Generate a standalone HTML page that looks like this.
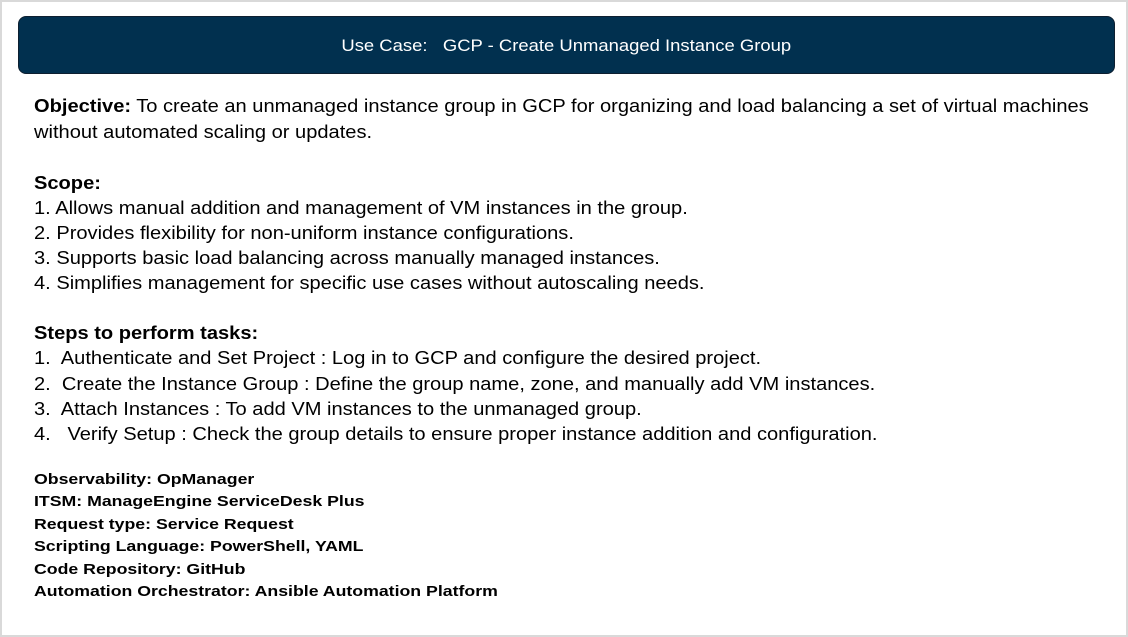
<!DOCTYPE html>
<html><head><meta charset="utf-8"><style>
body{margin:0;width:1128px;height:637px;background:#fff;position:relative;overflow:hidden;font-family:"Liberation Sans",Arial,sans-serif;color:#000}
.frame{position:absolute;left:0;top:0;width:1124px;height:633px;border:2px solid #d9d9d9}
.hdr{position:absolute;left:18px;top:16px;width:1095px;height:56px;background:#01304f;border:1px solid #0d1f30;border-radius:8px;color:#fff;font-size:17px;text-align:center;line-height:58px}
.hdr span{display:inline-block;transform:scaleX(1.085)}
.t{position:absolute;left:34px;font-size:18px;white-space:nowrap;line-height:20px;transform:scaleX(1.115);transform-origin:0 0}
.s{position:absolute;left:34px;font-size:15px;font-weight:bold;white-space:nowrap;line-height:18px;transform:scaleX(1.18);transform-origin:0 0}
</style></head><body>
<div class="frame"></div>
<div class="hdr"><span>Use Case:&nbsp;&nbsp; GCP - Create Unmanaged Instance Group</span></div>
<div class="t" style="top:96px"><b>Objective:</b> To create an unmanaged instance group in GCP for organizing and load balancing a set of virtual machines</div>
<div class="t" style="top:122px">without automated scaling or updates.</div>
<div class="t" style="top:173px"><b>Scope:</b></div>
<div class="t" style="top:198px">1. Allows manual addition and management of VM instances in the group.</div>
<div class="t" style="top:223px">2. Provides flexibility for non-uniform instance configurations.</div>
<div class="t" style="top:248px">3. Supports basic load balancing across manually managed instances.</div>
<div class="t" style="top:273px">4. Simplifies management for specific use cases without autoscaling needs.</div>
<div class="t" style="top:323px"><b>Steps to perform tasks:</b></div>
<div class="t" style="top:348px">1.&nbsp; Authenticate and Set Project : Log in to GCP and configure the desired project.</div>
<div class="t" style="top:374px">2.&nbsp; Create the Instance Group : Define the group name, zone, and manually add VM instances.</div>
<div class="t" style="top:399px">3.&nbsp; Attach Instances : To add VM instances to the unmanaged group.</div>
<div class="t" style="top:424px">4.&nbsp;&nbsp; Verify Setup : Check the group details to ensure proper instance addition and configuration.</div>
<div class="s" style="top:471px">Observability: OpManager</div>
<div class="s" style="top:493px">ITSM: ManageEngine ServiceDesk Plus</div>
<div class="s" style="top:516px">Request type: Service Request</div>
<div class="s" style="top:538px">Scripting Language: PowerShell, YAML</div>
<div class="s" style="top:561px">Code Repository: GitHub</div>
<div class="s" style="top:583px">Automation Orchestrator: Ansible Automation Platform</div>
</body></html>
